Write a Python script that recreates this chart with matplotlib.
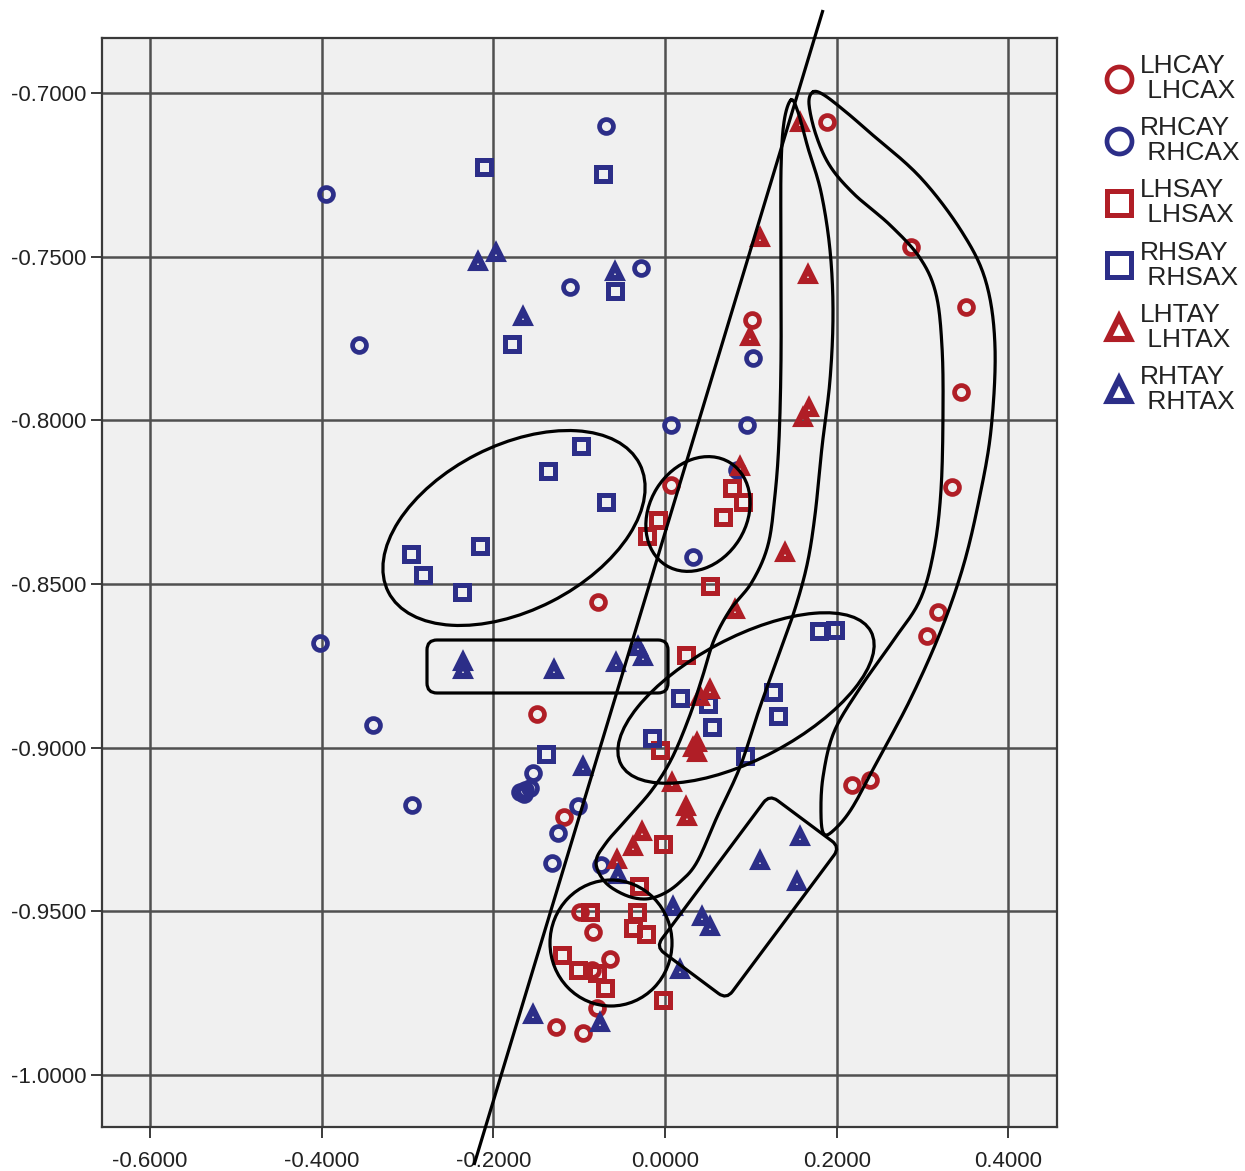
import matplotlib
matplotlib.use('Agg')
import matplotlib.pyplot as plt
from matplotlib.patches import Ellipse, FancyBboxPatch
from matplotlib.transforms import Affine2D
import numpy as np

plt.rcParams['font.family'] = ['Liberation Sans', 'DejaVu Sans']

RED = '#B01E26'
BLUE = '#2C2E88'

# ---- data ----
rhc_x = [-0.395, -0.0687, -0.1107, -0.0280, -0.3564, 0.1025, 0.0070, 0.0955, 0.0326, -0.4019,
         -0.3401, -0.2947, -0.1538, -0.1689, -0.1631, -0.1573, -0.1642, -0.1013, -0.1246, -0.1316,
         -0.0745, 0.0839]
rhc_y = [-0.7310, -0.7101, -0.7593, -0.7534, -0.7770, -0.7809, -0.8014, -0.8014, -0.8417, -0.8680,
         -0.8930, -0.9174, -0.9077, -0.9135, -0.9129, -0.9123, -0.9141, -0.9178, -0.9260, -0.9352,
         -0.9358, -0.8151]

rhs_x = [-0.2108, -0.0722, -0.0582, -0.1782, -0.0978, -0.1363, -0.0687, -0.2155, -0.2959, -0.2819,
         -0.2365, 0.1794, 0.1980, 0.1258, 0.1316, 0.0175, 0.0501, 0.0547, -0.0151, 0.0932, -0.1386]
rhs_y = [-0.7226, -0.7247, -0.7605, -0.7767, -0.8078, -0.8154, -0.8249, -0.8383, -0.8408, -0.8472,
         -0.8524, -0.8643, -0.8640, -0.8829, -0.8903, -0.8848, -0.8866, -0.8936, -0.8970, -0.9025, -0.9019]

lhc_x = [0.1887, 0.2865, 0.3506, 0.3448, 0.1013, 0.3343, 0.3180, 0.3052, 0.2178, 0.2388,
         0.0070, -0.0780, -0.1491, -0.1176, -0.0990, -0.0839, -0.0641, -0.0850, -0.0792, -0.1270, -0.0955]
lhc_y = [-0.7089, -0.7470, -0.7654, -0.7913, -0.7693, -0.8203, -0.8585, -0.8658, -0.9113, -0.9098,
         -0.8197, -0.8554, -0.8897, -0.9211, -0.9501, -0.9562, -0.9645, -0.9678, -0.9794, -0.9855, -0.9871]

lhs_x = [0.0780, 0.0909, 0.0676, -0.0082, -0.0210, 0.0524, 0.0245, -0.0058, -0.0023, -0.0303,
         -0.0326, -0.0874, -0.0373, -0.0221, -0.1200, -0.1013, -0.0792, -0.0699, -0.0023]
lhs_y = [-0.8206, -0.8249, -0.8295, -0.8304, -0.8353, -0.8506, -0.8716, -0.9006, -0.9294, -0.9422,
         -0.9501, -0.9501, -0.9550, -0.9568, -0.9633, -0.9678, -0.9688, -0.9733, -0.9770]

lht_x = [0.1573, 0.1107, 0.1666, 0.0990, 0.1677, 0.1607, 0.0874, 0.1398, 0.0815, 0.0524,
         0.0408, 0.0373, 0.0373, 0.0326, 0.0082, 0.0245, 0.0256, -0.0268, -0.0373, -0.0559]
lht_y = [-0.7092, -0.7443, -0.7556, -0.7745, -0.7962, -0.7993, -0.8142, -0.8405, -0.8579, -0.8823,
         -0.8845, -0.8985, -0.9016, -0.9000, -0.9107, -0.9181, -0.9211, -0.9257, -0.9303, -0.9342]

rht_x = [-0.2178, -0.1969, -0.1654, -0.0582, -0.2353, -0.2353, -0.1293, -0.0571, -0.0315, -0.0256,
         -0.0955, -0.0547, 0.0093, 0.0431, 0.0524, 0.0175, -0.1538, -0.0757, 0.1573, 0.1107, 0.1538]
rht_y = [-0.7516, -0.7489, -0.7684, -0.7547, -0.8738, -0.8762, -0.8762, -0.8741, -0.8692, -0.8722,
         -0.9058, -0.9388, -0.9486, -0.9517, -0.9547, -0.9678, -0.9816, -0.9840, -0.9272, -0.9345, -0.9410]

x_ticks = [-0.6, -0.4, -0.2, 0.0, 0.2, 0.4]
y_ticks = [-0.70, -0.75, -0.80, -0.85, -0.90, -0.95, -1.00]


def smooth_closed(pts, n=16):
    # closed Catmull-Rom curve through the hand-drawn outline points
    p = np.asarray(pts, float)
    P = np.vstack([p[-1], p, p[0], p[1]])
    t = np.linspace(0, 1, n, endpoint=False)[:, None]
    out = []
    for i in range(1, len(p) + 1):
        p0, p1, p2, p3 = P[i - 1], P[i], P[i + 1], P[i + 2]
        out.append(0.5 * (2 * p1 + (-p0 + p2) * t + (2 * p0 - 5 * p1 + 4 * p2 - p3) * t ** 2
                          + (-p0 + 3 * p1 - 3 * p2 + p3) * t ** 3))
    out = np.vstack(out)
    return np.vstack([out, out[:1]])


fig = plt.figure(figsize=(12.45, 11.71), dpi=100)
ax = fig.add_axes([102 / 1245, 1 - 1127 / 1171, 955 / 1245, 1089 / 1171])
ax.set_facecolor('#F0F0F0')

series = [
    ('LHCAY\n LHCAX', lhc_x, lhc_y, 'o', RED, 10, 3.4),
    ('RHCAY\n RHCAX', rhc_x, rhc_y, 'o', BLUE, 10, 3.4),
    ('LHSAY\n LHSAX', lhs_x, lhs_y, 's', RED, 9.5, 3.6),
    ('RHSAY\n RHSAX', rhs_x, rhs_y, 's', BLUE, 9.5, 3.6),
    ('LHTAY\n LHTAX', lht_x, lht_y, '^', RED, 9.0, 4.4),
    ('RHTAY\n RHTAX', rht_x, rht_y, '^', BLUE, 9.0, 4.4),
]
handles = []
for label, xs, ys, mk, col, ms, mew in series:
    h, = ax.plot(xs, ys, linestyle='none', marker=mk, mfc='none', mec=col, ms=ms, mew=mew,
                 zorder=3, label=label)
    handles.append(h)

ax.set_xlim(-0.656, 0.4566)
ax.set_ylim(-1.0159, -0.6832)
ax.set_xticks(x_ticks)
ax.set_yticks(y_ticks)
ax.set_xticklabels([f'{v:.4f}' for v in x_ticks])
ax.set_yticklabels([f'{v:.4f}' for v in y_ticks])
ax.grid(True, color='#505050', linewidth=1.8, zorder=1)
ax.set_axisbelow(True)
for s in ax.spines.values():
    s.set_color('#3A3A3A')
    s.set_linewidth(1.6)
ax.tick_params(axis='both', direction='out', length=8, width=1.4, color='#3A3A3A',
               labelsize=16, labelcolor='#222222', pad=3)
ax.tick_params(axis='x', pad=9)

leg = fig.legend(handles=handles, loc='upper left', bbox_to_anchor=(1093 / 1245, 1 - 41 / 1171),
                 frameon=False, borderpad=0, handlelength=1.0, handletextpad=0.28,
                 labelspacing=0.5, markerscale=1.8, fontsize=19)
for t in leg.get_texts():
    t.set_linespacing(1.05)
    t.set_color('#222222')

# ---- hand-drawn outlines on top of the chart, in reference pixel space ----
ov = fig.add_axes([0, 0, 1, 1], zorder=5)
ov.set_xlim(0, 1245)
ov.set_ylim(1171, 0)
ov.axis('off')
ov.patch.set_alpha(0)
lw = 2.3

ov.plot([823, 474], [10, 1165], color='black', lw=lw, solid_capstyle='butt')

loop_b = [(791, 100), (784, 122), (781, 170), (781, 260), (781, 360), (779, 440), (775, 495),
          (768, 545), (752, 582), (730, 610), (714, 640), (703, 675), (690, 715), (672, 758),
          (652, 790), (626, 820), (606, 843), (596, 862), (605, 882), (625, 895), (645, 899),
          (663, 894), (680, 882), (697, 862), (717, 817), (740, 767), (760, 707), (778, 657),
          (794, 612), (807, 565), (815, 515), (822, 447), (830, 380), (833, 313), (830, 250),
          (821, 192), (808, 148), (798, 112)]
xy = smooth_closed(loop_b)
ov.plot(xy[:, 0], xy[:, 1], color='black', lw=lw)

loop_c = [(813, 92), (824, 95), (846, 112), (868, 131), (920, 177), (962, 232), (986, 282),
          (995, 347), (991, 430), (979, 500), (963, 567), (940, 633), (910, 700), (878, 760),
          (852, 808), (834, 830), (824, 834), (821, 815), (823, 777), (834, 732), (860, 688),
          (893, 641), (920, 600), (934, 550), (941, 490), (943, 413), (942, 347), (936, 294),
          (920, 258), (890, 225), (854, 194), (830, 166), (816, 135), (809, 104)]
xy = smooth_closed(loop_c)
ov.plot(xy[:, 0], xy[:, 1], color='black', lw=lw)

ov.add_patch(Ellipse((514, 528), 282, 165, angle=-27, fill=False, ec='black', lw=lw))
ov.add_patch(Ellipse((698, 514), 121, 97, angle=-58, fill=False, ec='black', lw=lw))
ov.add_patch(Ellipse((746, 698), 283, 121, angle=-28, fill=False, ec='black', lw=lw))
ov.add_patch(Ellipse((611, 943), 122, 126, angle=0, fill=False, ec='black', lw=lw))
ov.add_patch(FancyBboxPatch((437, 650), 221, 33, boxstyle='round,pad=10', fill=False,
                            ec='black', lw=lw))
rr = FancyBboxPatch((-34, -85), 68, 170, boxstyle='round,pad=10', fill=False, ec='black', lw=lw)
rr.set_transform(Affine2D().rotate_deg(36.7).translate(748, 897) + ov.transData)
ov.add_patch(rr)

fig.savefig('out.png', dpi=100, facecolor='white')
